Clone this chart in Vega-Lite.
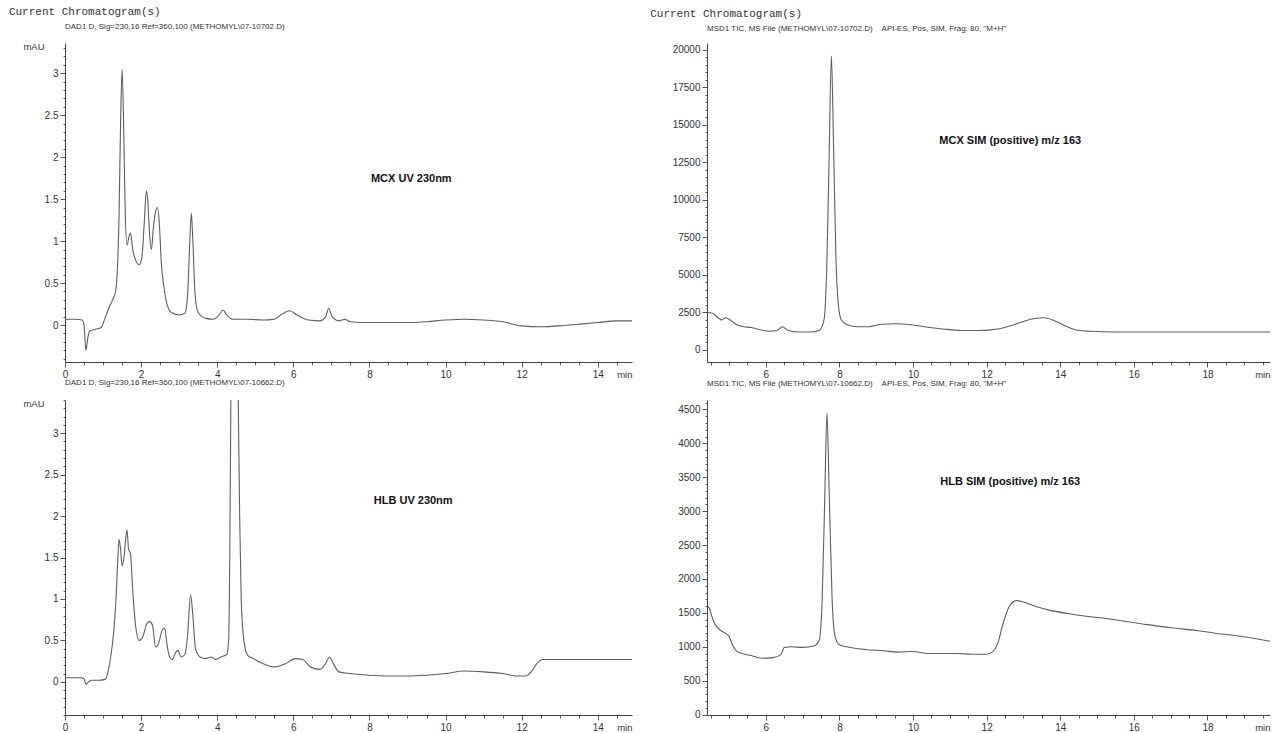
{
  "$schema": "https://vega.github.io/schema/vega-lite/v6.json",
  "background": "white",
  "padding": {"left": 8, "top": 6, "right": 2, "bottom": 0},
  "datasets": {
    "tl": [
      {"t":0,"v":0.07},{"t":0.3,"v":0.07},{"t":0.45,"v":0.06},{"t":0.5,"v":0.0},{"t":0.55,"v":-0.3},{"t":0.6,"v":-0.15},{"t":0.65,"v":-0.07},{"t":0.8,"v":-0.05},{"t":0.95,"v":-0.03},{"t":1.05,"v":0.08},{"t":1.15,"v":0.2},{"t":1.25,"v":0.3},{"t":1.33,"v":0.4},{"t":1.38,"v":0.7},{"t":1.42,"v":1.3},{"t":1.46,"v":2.4},{"t":1.5,"v":3.05},{"t":1.54,"v":2.4},{"t":1.58,"v":1.4},{"t":1.63,"v":0.95},{"t":1.68,"v":1.05},{"t":1.72,"v":1.1},{"t":1.78,"v":0.9},{"t":1.85,"v":0.78},{"t":1.95,"v":0.72},{"t":2.02,"v":0.8},{"t":2.08,"v":1.2},{"t":2.14,"v":1.6},{"t":2.18,"v":1.45},{"t":2.22,"v":1.1},{"t":2.27,"v":0.9},{"t":2.32,"v":1.15},{"t":2.38,"v":1.35},{"t":2.43,"v":1.4},{"t":2.48,"v":1.2},{"t":2.53,"v":0.75},{"t":2.6,"v":0.45},{"t":2.68,"v":0.25},{"t":2.8,"v":0.15},{"t":3.0,"v":0.12},{"t":3.15,"v":0.14},{"t":3.22,"v":0.35},{"t":3.28,"v":1.0},{"t":3.32,"v":1.33},{"t":3.36,"v":1.0},{"t":3.42,"v":0.35},{"t":3.5,"v":0.15},{"t":3.7,"v":0.08},{"t":3.9,"v":0.07},{"t":4.05,"v":0.12},{"t":4.15,"v":0.18},{"t":4.25,"v":0.12},{"t":4.4,"v":0.07},{"t":4.8,"v":0.07},{"t":5.2,"v":0.06},{"t":5.5,"v":0.07},{"t":5.7,"v":0.13},{"t":5.9,"v":0.17},{"t":6.1,"v":0.12},{"t":6.4,"v":0.06},{"t":6.7,"v":0.05},{"t":6.85,"v":0.1},{"t":6.93,"v":0.2},{"t":7.02,"v":0.1},{"t":7.2,"v":0.05},{"t":7.35,"v":0.07},{"t":7.5,"v":0.04},{"t":8,"v":0.03},{"t":8.5,"v":0.03},{"t":9,"v":0.03},{"t":9.5,"v":0.04},{"t":10,"v":0.06},{"t":10.5,"v":0.07},{"t":11,"v":0.06},{"t":11.5,"v":0.04},{"t":12,"v":-0.01},{"t":12.5,"v":-0.02},{"t":13,"v":-0.01},{"t":13.5,"v":0.01},{"t":14,"v":0.03},{"t":14.5,"v":0.05},{"t":14.9,"v":0.05}
    ],
    "bl": [
      {"t":0,"v":0.05},{"t":0.4,"v":0.05},{"t":0.5,"v":0.04},{"t":0.55,"v":-0.03},{"t":0.62,"v":0.0},{"t":0.7,"v":0.02},{"t":0.9,"v":0.02},{"t":1.05,"v":0.03},{"t":1.12,"v":0.1},{"t":1.2,"v":0.3},{"t":1.28,"v":0.6},{"t":1.34,"v":1.0},{"t":1.38,"v":1.4},{"t":1.42,"v":1.72},{"t":1.46,"v":1.6},{"t":1.5,"v":1.4},{"t":1.55,"v":1.5},{"t":1.6,"v":1.75},{"t":1.63,"v":1.83},{"t":1.67,"v":1.6},{"t":1.72,"v":1.55},{"t":1.78,"v":1.1},{"t":1.85,"v":0.7},{"t":1.95,"v":0.5},{"t":2.05,"v":0.55},{"t":2.15,"v":0.7},{"t":2.22,"v":0.73},{"t":2.3,"v":0.68},{"t":2.38,"v":0.42},{"t":2.45,"v":0.45},{"t":2.55,"v":0.62},{"t":2.62,"v":0.65},{"t":2.68,"v":0.45},{"t":2.75,"v":0.3},{"t":2.82,"v":0.27},{"t":2.9,"v":0.35},{"t":2.97,"v":0.38},{"t":3.05,"v":0.3},{"t":3.15,"v":0.33},{"t":3.22,"v":0.55},{"t":3.3,"v":1.05},{"t":3.36,"v":0.8},{"t":3.43,"v":0.4},{"t":3.55,"v":0.3},{"t":3.7,"v":0.28},{"t":3.85,"v":0.3},{"t":3.95,"v":0.27},{"t":4.1,"v":0.3},{"t":4.25,"v":0.33},{"t":4.3,"v":0.5},{"t":4.33,"v":1.5},{"t":4.36,"v":3.5},{"t":4.45,"v":6},{"t":4.55,"v":3.5},{"t":4.59,"v":2.0},{"t":4.63,"v":1.0},{"t":4.7,"v":0.5},{"t":4.8,"v":0.32},{"t":4.95,"v":0.28},{"t":5.2,"v":0.22},{"t":5.5,"v":0.18},{"t":5.8,"v":0.22},{"t":6.05,"v":0.28},{"t":6.25,"v":0.27},{"t":6.45,"v":0.18},{"t":6.7,"v":0.15},{"t":6.85,"v":0.22},{"t":6.95,"v":0.3},{"t":7.05,"v":0.22},{"t":7.2,"v":0.12},{"t":7.5,"v":0.1},{"t":8,"v":0.08},{"t":8.5,"v":0.07},{"t":9,"v":0.07},{"t":9.5,"v":0.08},{"t":10,"v":0.1},{"t":10.5,"v":0.13},{"t":11,"v":0.12},{"t":11.5,"v":0.1},{"t":11.9,"v":0.07},{"t":12.1,"v":0.07},{"t":12.25,"v":0.12},{"t":12.4,"v":0.22},{"t":12.55,"v":0.27},{"t":13,"v":0.27},{"t":13.5,"v":0.27},{"t":14,"v":0.27},{"t":14.9,"v":0.27}
    ],
    "tr": [
      {"t":4.42,"v":2500},{"t":4.55,"v":2450},{"t":4.7,"v":2150},{"t":4.8,"v":2000},{"t":4.9,"v":2150},{"t":5.0,"v":2050},{"t":5.2,"v":1700},{"t":5.4,"v":1550},{"t":5.6,"v":1500},{"t":5.85,"v":1350},{"t":6.1,"v":1250},{"t":6.3,"v":1300},{"t":6.45,"v":1550},{"t":6.6,"v":1300},{"t":6.9,"v":1200},{"t":7.2,"v":1200},{"t":7.45,"v":1300},{"t":7.58,"v":2000},{"t":7.66,"v":6000},{"t":7.72,"v":13000},{"t":7.78,"v":19600},{"t":7.84,"v":13500},{"t":7.9,"v":6500},{"t":7.97,"v":3000},{"t":8.05,"v":2000},{"t":8.2,"v":1700},{"t":8.5,"v":1550},{"t":8.8,"v":1550},{"t":9.1,"v":1700},{"t":9.5,"v":1750},{"t":9.9,"v":1700},{"t":10.3,"v":1550},{"t":10.8,"v":1400},{"t":11.3,"v":1300},{"t":11.8,"v":1300},{"t":12.3,"v":1400},{"t":12.7,"v":1650},{"t":13.0,"v":1900},{"t":13.3,"v":2100},{"t":13.55,"v":2150},{"t":13.8,"v":2000},{"t":14.1,"v":1650},{"t":14.4,"v":1350},{"t":14.8,"v":1250},{"t":15.5,"v":1200},{"t":16.5,"v":1200},{"t":17.5,"v":1200},{"t":18.5,"v":1200},{"t":19.7,"v":1200}
    ],
    "br": [
      {"t":4.42,"v":1600},{"t":4.47,"v":1560},{"t":4.53,"v":1450},{"t":4.62,"v":1330},{"t":4.75,"v":1250},{"t":4.9,"v":1200},{"t":5.0,"v":1150},{"t":5.1,"v":1020},{"t":5.2,"v":940},{"t":5.35,"v":900},{"t":5.6,"v":870},{"t":5.9,"v":830},{"t":6.2,"v":840},{"t":6.4,"v":880},{"t":6.5,"v":990},{"t":6.7,"v":1000},{"t":7.0,"v":990},{"t":7.3,"v":1010},{"t":7.45,"v":1100},{"t":7.53,"v":1700},{"t":7.6,"v":3200},{"t":7.66,"v":4450},{"t":7.72,"v":3300},{"t":7.8,"v":1700},{"t":7.88,"v":1150},{"t":8.0,"v":1030},{"t":8.3,"v":990},{"t":8.7,"v":960},{"t":9.2,"v":940},{"t":9.6,"v":920},{"t":10.0,"v":930},{"t":10.4,"v":900},{"t":10.8,"v":900},{"t":11.2,"v":900},{"t":11.6,"v":890},{"t":12.0,"v":890},{"t":12.15,"v":920},{"t":12.3,"v":1050},{"t":12.45,"v":1350},{"t":12.6,"v":1580},{"t":12.8,"v":1680},{"t":13.0,"v":1660},{"t":13.3,"v":1600},{"t":13.7,"v":1540},{"t":14.2,"v":1490},{"t":14.7,"v":1450},{"t":15.2,"v":1420},{"t":15.7,"v":1380},{"t":16.2,"v":1340},{"t":16.7,"v":1300},{"t":17.2,"v":1270},{"t":17.7,"v":1240},{"t":18.2,"v":1200},{"t":18.7,"v":1170},{"t":19.2,"v":1130},{"t":19.7,"v":1080}
    ]
  },
  "hconcat": [
    {
      "title": {"text": "Current Chromatogram(s)", "font": "Liberation Mono", "fontSize": 11, "anchor": "start", "frame": "bounds", "dx": -14, "offset": 6, "color": "#333"},
      "spacing": 0,
      "vconcat": [
        {
          "width": 567, "height": 319,
          "title": {"text": "DAD1 D, Sig=230,16 Ref=360,100 (METHOMYL\\07-10702.D)", "offset": 10},
          "layer": [
            {
              "data": {"name": "tl"},
              "mark": {"type": "line", "color": "#5e5e5e", "strokeWidth": 1.1, "clip": true, "interpolate": "monotone"},
              "encoding": {
                "x": {"field": "t", "type": "quantitative", "scale": {"domain": [0, 14.9], "nice": false, "zero": false},
                  "axis": {"tickCount": 1000, "values": [0,0.5,1,1.5,2,2.5,3,3.5,4,4.5,5,5.5,6,6.5,7,7.5,8,8.5,9,9.5,10,10.5,11,11.5,12,12.5,13,13.5,14,14.5],
                    "labelExpr": "datum.value % 2 == 0 ? format(datum.value, 'd') : ''",
                    "tickSize": {"condition": {"test": "datum.value % 2 == 0", "value": 5}, "value": 3},
                    "title": "min", "titleAngle": 0, "titleAlign": "right", "titleBaseline": "top", "titleX": 567, "titleY": 7}},
                "y": {"field": "v", "type": "quantitative", "scale": {"domain": [-0.44, 3.36], "nice": false, "zero": false},
                  "axis": {"tickCount": 1000, "values": [-0.4,-0.3,-0.2,-0.1,0,0.1,0.2,0.3,0.4,0.5,0.6,0.7,0.8,0.9,1,1.1,1.2,1.3,1.4,1.5,1.6,1.7,1.8,1.9,2,2.1,2.2,2.3,2.4,2.5,2.6,2.7,2.8,2.9,3,3.1,3.2,3.3],
                    "labelExpr": "abs(datum.value*2 - round(datum.value*2)) < 0.001 ? format(datum.value, '~g') : ''",
                    "tickSize": {"condition": {"test": "abs(datum.value*2 - round(datum.value*2)) < 0.001", "value": 5}, "value": 2},
                    "title": "mAU", "titleAngle": 0, "titleAlign": "right", "titleBaseline": "middle", "titleX": -21, "titleY": 3}}
              }
            },
            {
              "data": {"values": [{"t": 9.1, "v": 1.74, "label": "MCX UV 230nm"}]},
              "mark": {"type": "text", "font": "Liberation Sans", "fontSize": 11, "fontWeight": "bold", "color": "#111"},
              "encoding": {"x": {"field": "t", "type": "quantitative"}, "y": {"field": "v", "type": "quantitative"}, "text": {"field": "label"}}
            }
          ]
        },
        {
          "width": 567, "height": 315,
          "title": {"text": "DAD1 D, Sig=230,16 Ref=360,100 (METHOMYL\\07-10662.D)", "offset": 8},
          "layer": [
            {
              "data": {"name": "bl"},
              "mark": {"type": "line", "color": "#5e5e5e", "strokeWidth": 1.1, "clip": true, "interpolate": "monotone"},
              "encoding": {
                "x": {"field": "t", "type": "quantitative", "scale": {"domain": [0, 14.9], "nice": false, "zero": false},
                  "axis": {"tickCount": 1000, "values": [0,0.5,1,1.5,2,2.5,3,3.5,4,4.5,5,5.5,6,6.5,7,7.5,8,8.5,9,9.5,10,10.5,11,11.5,12,12.5,13,13.5,14,14.5],
                    "labelExpr": "datum.value % 2 == 0 ? format(datum.value, 'd') : ''",
                    "tickSize": {"condition": {"test": "datum.value % 2 == 0", "value": 5}, "value": 3},
                    "title": "min", "titleAngle": 0, "titleAlign": "right", "titleBaseline": "top", "titleX": 567, "titleY": 7}},
                "y": {"field": "v", "type": "quantitative", "scale": {"domain": [-0.4, 3.4], "nice": false, "zero": false},
                  "axis": {"tickCount": 1000, "values": [-0.4,-0.3,-0.2,-0.1,0,0.1,0.2,0.3,0.4,0.5,0.6,0.7,0.8,0.9,1,1.1,1.2,1.3,1.4,1.5,1.6,1.7,1.8,1.9,2,2.1,2.2,2.3,2.4,2.5,2.6,2.7,2.8,2.9,3,3.1,3.2,3.3,3.4],
                    "labelExpr": "abs(datum.value*2 - round(datum.value*2)) < 0.001 ? format(datum.value, '~g') : ''",
                    "tickSize": {"condition": {"test": "abs(datum.value*2 - round(datum.value*2)) < 0.001", "value": 5}, "value": 2},
                    "title": "mAU", "titleAngle": 0, "titleAlign": "right", "titleBaseline": "middle", "titleX": -21, "titleY": 3}}
              }
            },
            {
              "data": {"values": [{"t": 9.15, "v": 2.18, "label": "HLB UV 230nm"}]},
              "mark": {"type": "text", "font": "Liberation Sans", "fontSize": 11, "fontWeight": "bold", "color": "#111"},
              "encoding": {"x": {"field": "t", "type": "quantitative"}, "y": {"field": "v", "type": "quantitative"}, "text": {"field": "label"}}
            }
          ]
        }
      ]
    },
    {
      "title": {"text": "Current Chromatogram(s)", "font": "Liberation Mono", "fontSize": 11, "anchor": "start", "frame": "bounds", "dx": -22, "offset": 6, "color": "#333"},
      "spacing": 0,
      "vconcat": [
        {
          "width": 563, "height": 319,
          "title": {"text": "MSD1 TIC, MS File (METHOMYL\\07-10702.D)\u00a0\u00a0\u00a0\u00a0API-ES, Pos, SIM, Frag: 80, \"M+H\"", "offset": 10},
          "layer": [
            {
              "data": {"name": "tr"},
              "mark": {"type": "line", "color": "#5e5e5e", "strokeWidth": 1.1, "clip": true, "interpolate": "monotone"},
              "encoding": {
                "x": {"field": "t", "type": "quantitative", "scale": {"domain": [4.4, 19.7], "nice": false, "zero": false},
                  "axis": {"tickCount": 1000, "values": [4.5,5,5.5,6,6.5,7,7.5,8,8.5,9,9.5,10,10.5,11,11.5,12,12.5,13,13.5,14,14.5,15,15.5,16,16.5,17,17.5,18,18.5,19,19.5],
                    "labelExpr": "datum.value % 2 == 0 ? format(datum.value, 'd') : ''",
                    "tickSize": {"condition": {"test": "datum.value % 2 == 0", "value": 5}, "value": 3},
                    "title": "min", "titleAngle": 0, "titleAlign": "right", "titleBaseline": "top", "titleX": 563, "titleY": 7}},
                "y": {"field": "v", "type": "quantitative", "scale": {"domain": [-800, 20450], "nice": false, "zero": false},
                  "axis": {"tickCount": 1000, "values": [0,500,1000,1500,2000,2500,3000,3500,4000,4500,5000,5500,6000,6500,7000,7500,8000,8500,9000,9500,10000,10500,11000,11500,12000,12500,13000,13500,14000,14500,15000,15500,16000,16500,17000,17500,18000,18500,19000,19500,20000],
                    "labelExpr": "datum.value % 2500 == 0 ? format(datum.value, 'd') : ''",
                    "tickSize": {"condition": {"test": "datum.value % 2500 == 0", "value": 5}, "value": 2},
                    "title": null}}
              }
            },
            {
              "data": {"values": [{"t": 12.64, "v": 13950, "label": "MCX SIM (positive) m/z 163"}]},
              "mark": {"type": "text", "font": "Liberation Sans", "fontSize": 11, "fontWeight": "bold", "color": "#111"},
              "encoding": {"x": {"field": "t", "type": "quantitative"}, "y": {"field": "v", "type": "quantitative"}, "text": {"field": "label"}}
            }
          ]
        },
        {
          "width": 563, "height": 315,
          "title": {"text": "MSD1 TIC, MS File (METHOMYL\\07-10662.D)\u00a0\u00a0\u00a0\u00a0API-ES, Pos, SIM, Frag: 80, \"M+H\"", "offset": 10},
          "layer": [
            {
              "data": {"name": "br"},
              "mark": {"type": "line", "color": "#5e5e5e", "strokeWidth": 1.1, "clip": true, "interpolate": "monotone"},
              "encoding": {
                "x": {"field": "t", "type": "quantitative", "scale": {"domain": [4.4, 19.7], "nice": false, "zero": false},
                  "axis": {"tickCount": 1000, "values": [4.5,5,5.5,6,6.5,7,7.5,8,8.5,9,9.5,10,10.5,11,11.5,12,12.5,13,13.5,14,14.5,15,15.5,16,16.5,17,17.5,18,18.5,19,19.5],
                    "labelExpr": "datum.value % 2 == 0 ? format(datum.value, 'd') : ''",
                    "tickSize": {"condition": {"test": "datum.value % 2 == 0", "value": 5}, "value": 3},
                    "title": "min", "titleAngle": 0, "titleAlign": "right", "titleBaseline": "top", "titleX": 563, "titleY": 7}},
                "y": {"field": "v", "type": "quantitative", "scale": {"domain": [-7, 4640], "nice": false, "zero": false},
                  "axis": {"tickCount": 1000, "values": [0,100,200,300,400,500,600,700,800,900,1000,1100,1200,1300,1400,1500,1600,1700,1800,1900,2000,2100,2200,2300,2400,2500,2600,2700,2800,2900,3000,3100,3200,3300,3400,3500,3600,3700,3800,3900,4000,4100,4200,4300,4400,4500,4600],
                    "labelExpr": "datum.value % 500 == 0 ? format(datum.value, 'd') : ''",
                    "tickSize": {"condition": {"test": "datum.value % 500 == 0", "value": 5}, "value": 2},
                    "title": null}}
              }
            },
            {
              "data": {"values": [{"t": 12.64, "v": 3425, "label": "HLB SIM (positive) m/z 163"}]},
              "mark": {"type": "text", "font": "Liberation Sans", "fontSize": 11, "fontWeight": "bold", "color": "#111"},
              "encoding": {"x": {"field": "t", "type": "quantitative"}, "y": {"field": "v", "type": "quantitative"}, "text": {"field": "label"}}
            }
          ]
        }
      ]
    }
  ],
  "spacing": 18,
  "config": {
    "view": {"stroke": null},
    "axis": {"domainColor": "#444", "tickColor": "#555", "labelFont": "Liberation Sans", "labelFontSize": 10, "labelColor": "#333", "labelPadding": 2, "grid": false, "titleFont": "Liberation Sans", "titleFontSize": 9.5, "titleFontWeight": "normal", "titleColor": "#333", "labelOverlap": false, "labelBound": false, "labelFlush": false},
    "title": {"font": "Liberation Sans", "fontSize": 8, "fontWeight": "normal", "anchor": "start", "frame": "group", "color": "#333"}
  }
}
